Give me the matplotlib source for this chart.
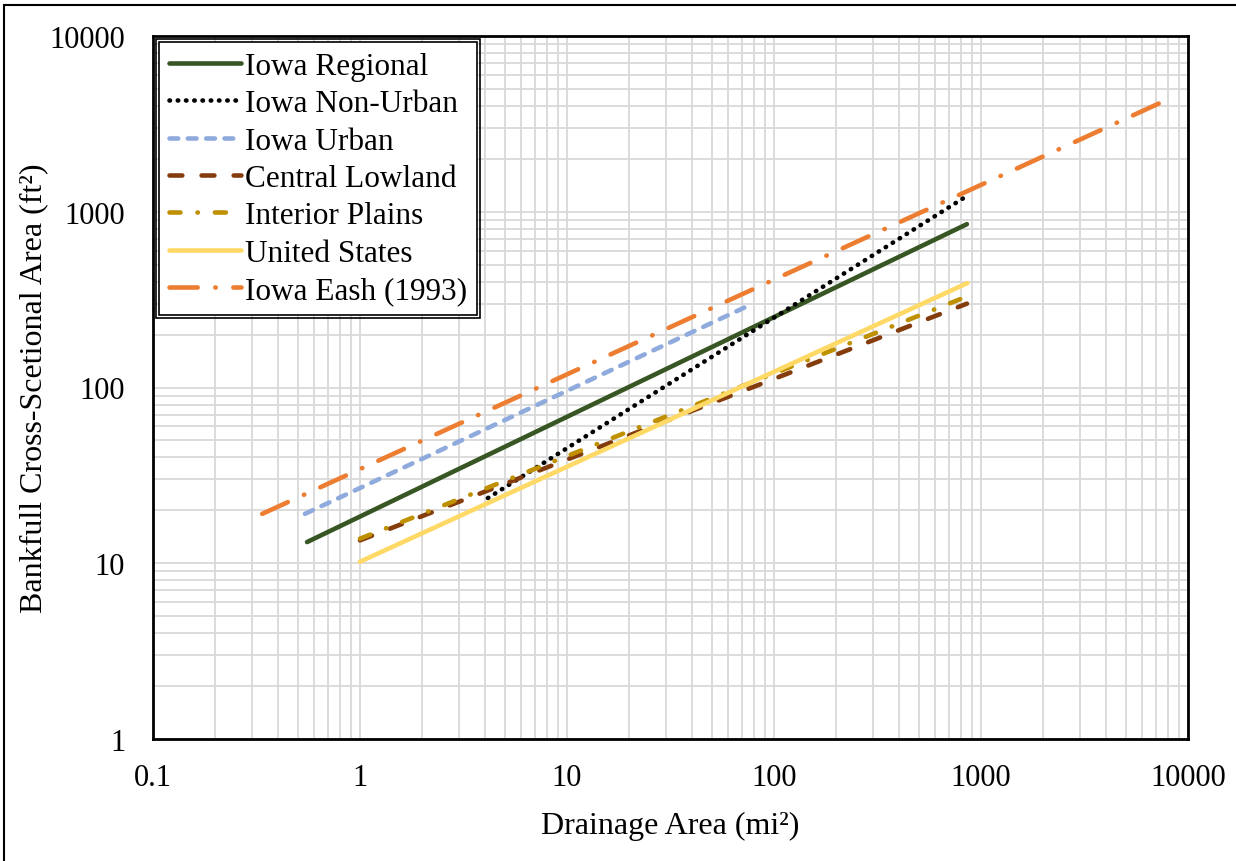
import matplotlib
matplotlib.use("Agg")
import matplotlib.pyplot as plt
from matplotlib.patches import Rectangle

plt.rcParams['font.family'] = ['Liberation Serif', 'DejaVu Serif']

# drainage area (mi2) and bankfull area (ft2), end points
regional_x = [0.555, 855]
regional_y = [13.2, 850]
nonurban_x = [4.15, 855]
nonurban_y = [23.5, 1230]
urban_x = [0.542, 76.6]
urban_y = [19.1, 295]
lowland_x = [1.0, 855]
lowland_y = [13.5, 300]
plains_x = [1.0, 830]
plains_y = [13.8, 325]
us_x = [1.0, 860]
us_y = [10.2, 393]
eash_x = [0.337, 7330]
eash_y = [19.1, 4160]

labels = ['Iowa Regional', 'Iowa Non-Urban', 'Iowa Urban', 'Central Lowland',
          'Interior Plains', 'United States', 'Iowa Eash (1993)']

fig = plt.figure(figsize=(12.36, 8.62), dpi=100)
ax = fig.add_axes([153/1236, 1-740/862, (1188-153)/1236, (740-37)/862])

lw = 3.3
ax.plot(regional_x, regional_y, color='#375623', lw=lw, solid_capstyle='round', label=labels[0])
ax.plot(nonurban_x, nonurban_y, color='black', lw=lw, linestyle=(0, (0.1, 1.7)),
        dash_capstyle='round', label=labels[1])
ax.plot(urban_x, urban_y, color='#8FAADC', lw=lw, linestyle=(0, (1.9, 2.1)),
        dash_capstyle='round', label=labels[2])
ax.plot(lowland_x, lowland_y, color='#843C0C', lw=lw, linestyle=(0, (2.8, 4.2)),
        dash_capstyle='round', label=labels[3])
ax.plot(plains_x, plains_y, color='#BF9000', lw=lw, linestyle=(0, (2.4, 3.7, 0.1, 3.7)),
        dash_capstyle='round', label=labels[4])
ax.plot(us_x, us_y, color='#FFD966', lw=lw, solid_capstyle='round', label=labels[5])
ax.plot(eash_x, eash_y, color='#ED7D31', lw=lw, linestyle=(0, (6.15, 3.84, 0.1, 3.84)),
        dash_capstyle='round', label=labels[6])

ax.set_xscale('log')
ax.set_yscale('log')
ax.set_xlim(0.1, 10000)
ax.set_ylim(1, 10000)
ax.set_xticks([0.1, 1, 10, 100, 1000, 10000])
ax.set_xticklabels(['0.1', '1', '10', '100', '1000', '10000'])
ax.set_yticks([1, 10, 100, 1000, 10000])
ax.set_yticklabels(['1', '10', '100', '1000', '10000'])
ax.grid(True, which='both', color='#D9D9D9', lw=1.3)
ax.set_axisbelow(True)
ax.tick_params(which='both', length=0)
ax.tick_params(axis='y', labelsize=22, pad=20)
ax.tick_params(axis='x', labelsize=22, pad=17)
for s in ax.spines.values():
    s.set_linewidth(2)
    s.set_color('black')

ax.set_xlabel('Drainage Area (mi²)', fontsize=23, labelpad=14)
ax.set_ylabel('Bankfull Cross-Scetional Area (ft²)', fontsize=23, labelpad=1)

leg = ax.legend(loc='upper left', fontsize=22.5, frameon=True, fancybox=False,
                edgecolor='black', framealpha=1, borderaxespad=0.2,
                handlelength=2.3, handletextpad=0.15, labelspacing=0.27,
                borderpad=0.3)
leg.get_frame().set_linewidth(1.2)

# second frame line round the legend
fig.canvas.draw()
bb = leg.get_window_extent().transformed(fig.transFigure.inverted())
pad_x = 3/1236
pad_y = 3/862
fig.patches.append(Rectangle((bb.x0 - pad_x, bb.y0 - pad_y), bb.width + 2*pad_x,
                             bb.height + 2*pad_y, transform=fig.transFigure,
                             fill=False, edgecolor='black', lw=1.2, zorder=10))

# outer border of the picture
fig.patches.append(Rectangle((4/1236, -0.1), 1.2, 1.1 - 6/862, transform=fig.transFigure,
                             fill=False, edgecolor='black', lw=1.5))

fig.savefig('out.png', dpi=100)
